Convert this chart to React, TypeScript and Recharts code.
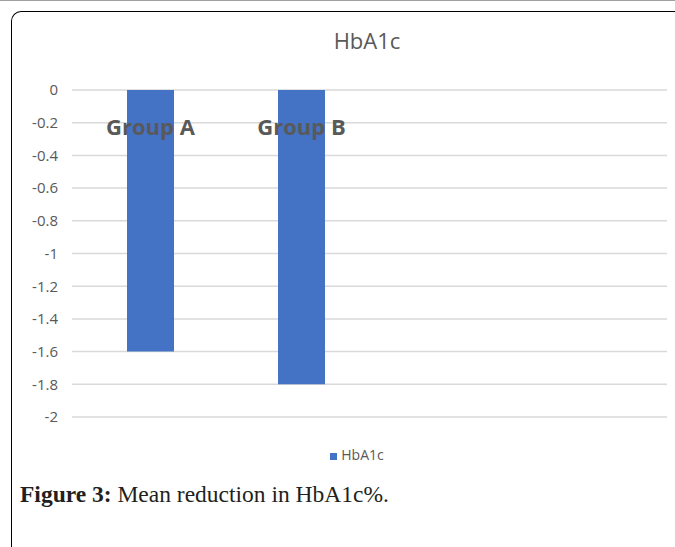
import React from 'react';
import { BarChart, Bar, XAxis, YAxis, CartesianGrid, Legend, LabelList } from 'recharts';

// values
const groups = ['Group A', 'Group B'];
const hba1c = [-1.6, -1.8];
const yTicks = [0, -0.2, -0.4, -0.6, -0.8, -1, -1.2, -1.4, -1.6, -1.8, -2];

const data = groups.map((name, i) => ({ name, HbA1c: hba1c[i] }));

const GRAY = '#595959';
const FONT = '"Open Sans", "Noto Sans", sans-serif';

const GroupLabel = (props: any) => {
  const { x, y, width, height, value } = props;
  const top = Math.min(y, y + height);
  return (
    <text
      x={x + width / 2}
      y={top + 45}
      textAnchor="middle"
      fill={GRAY}
      fontSize={22}
      fontWeight="bold"
      fontFamily={FONT}
    >
      {value}
    </text>
  );
};

export default function App() {
  return (
    <div
      style={{
        position: 'absolute',
        left: 0,
        top: 0,
        width: 675,
        height: 547,
        background: '#fff',
        overflow: 'hidden',
      }}
    >
      {/* page rule + figure frame */}
      <div style={{ position: 'absolute', left: 0, top: 0, width: 675, height: 1, background: '#a0a0a0' }} />
      <div
        style={{
          position: 'absolute',
          left: 11,
          top: 11,
          width: 700,
          height: 560,
          borderTop: '1.5px solid #000',
          borderLeft: '1.5px solid #000',
          borderTopLeftRadius: 10,
        }}
      />

      <div
        style={{
          position: 'absolute',
          left: 267,
          top: 25,
          width: 200,
          textAlign: 'center',
          fontFamily: FONT,
          fontSize: 22,
          color: GRAY,
        }}
      >
        HbA1c
      </div>

      <div style={{ position: 'absolute', left: 0, top: 0 }}>
        <BarChart
          width={675}
          height={470}
          data={data}
          margin={{ top: 90, right: 8, left: 0, bottom: 53 }}
          style={{ fontFamily: FONT }}
        >
          <CartesianGrid vertical={false} stroke="#d9d9d9" strokeWidth={1.5} />
          <XAxis dataKey="name" hide padding={{ left: 3, right: 290 }} />
          <YAxis
            width={72}
            domain={[-2, 0]}
            ticks={yTicks}
            tickLine={false}
            axisLine={false}
            tickMargin={8}
            tick={{ fontSize: 15, fill: GRAY }}
            interval={0}
          />
          <Legend
            verticalAlign="middle"
            iconType="square"
            iconSize={7}
            wrapperStyle={{ top: 445, left: 300, width: 124, fontSize: 14 }}
            formatter={(v: string) => <span style={{ color: GRAY }}>{v}</span>}
          />
          <Bar dataKey="HbA1c" fill="#4472C4" barSize={47} isAnimationActive={false}>
            <LabelList dataKey="name" content={GroupLabel} />
          </Bar>
        </BarChart>
      </div>

      <div
        style={{
          position: 'absolute',
          left: 20,
          top: 481,
          fontFamily: '"Liberation Serif", serif',
          fontSize: 23.5,
          color: '#231f20',
          whiteSpace: 'nowrap',
        }}
      >
        <b>Figure 3:</b> Mean reduction in HbA1c%.
      </div>
    </div>
  );
}
